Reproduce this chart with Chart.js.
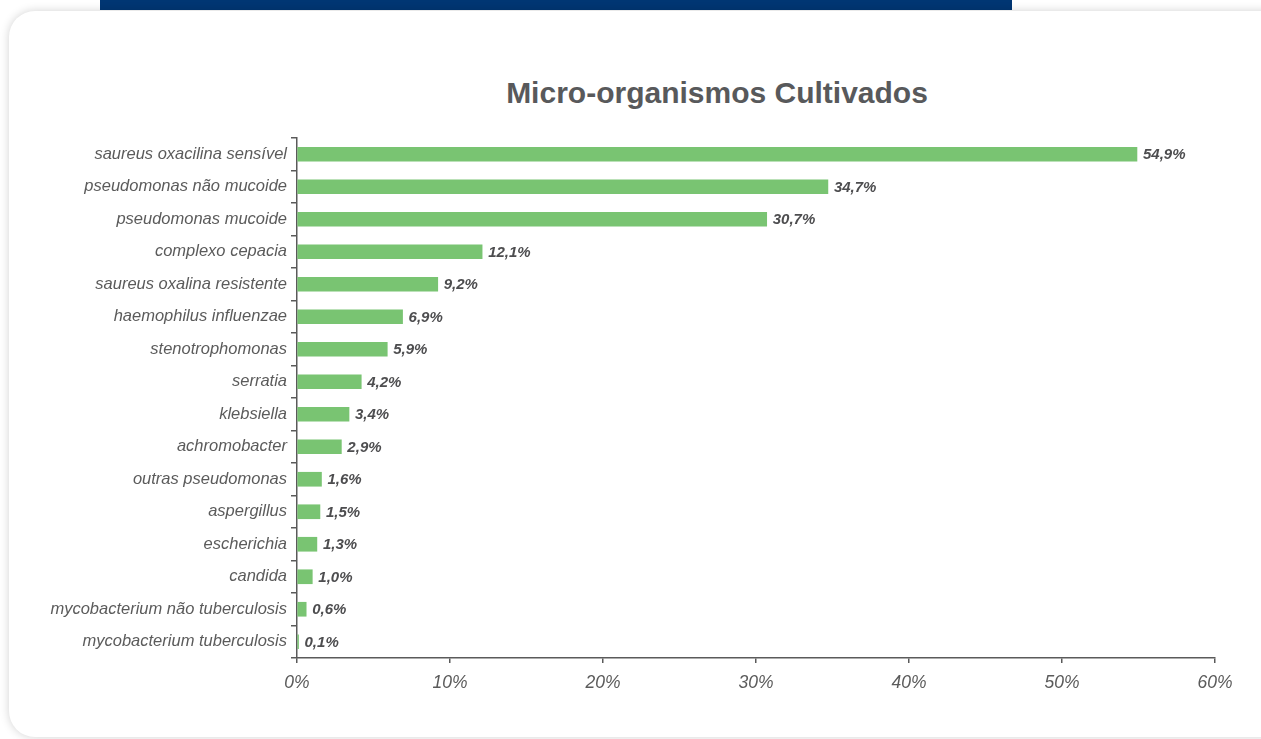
<!DOCTYPE html>
<html lang="pt">
<head>
<meta charset="utf-8">
<title>Micro-organismos Cultivados</title>
<script src="https://cdn.jsdelivr.net/npm/chart.js@4.4.1/dist/chart.umd.min.js"></script>
<style>
  html, body { margin: 0; padding: 0; background: #ffffff; }
  body { width: 1261px; height: 739px; position: relative; overflow: hidden; font-family: "Liberation Sans", Arial, sans-serif; }
  .topbar { position: absolute; left: 100px; top: 0; width: 912px; height: 10px; background: #003673; }
  .card { position: absolute; left: 9px; top: 11px; width: 1290px; height: 726px; background: #ffffff;
          border-radius: 26px; box-shadow: 0 0 10px rgba(0,0,0,0.18); }
  .title { position: absolute; left: 417px; width: 600px; top: 75px; text-align: center;
           font-weight: bold; font-size: 30px; color: #58595b; line-height: 36px; }
  #chartWrap { position: absolute; left: 0; top: 0; width: 1261px; height: 739px; }
</style>
</head>
<body>
<div class="topbar"></div>
<div class="card"></div>
<div class="title">Micro-organismos Cultivados</div>
<div id="chartWrap"><canvas id="chart" width="1261" height="739"></canvas></div>
<script>
// Organisms cultured, in the order shown top to bottom
const categories = [
  'saureus oxacilina sensível',
  'pseudomonas não mucoide',
  'pseudomonas mucoide',
  'complexo cepacia',
  'saureus oxalina resistente',
  'haemophilus influenzae',
  'stenotrophomonas',
  'serratia',
  'klebsiella',
  'achromobacter',
  'outras pseudomonas',
  'aspergillus',
  'escherichia',
  'candida',
  'mycobacterium não tuberculosis',
  'mycobacterium tuberculosis'
];
// Share of patients (%)
const percentages = [54.9, 34.7, 30.7, 12.1, 9.2, 6.9, 5.9, 4.2, 3.4, 2.9, 1.6, 1.5, 1.3, 1.0, 0.6, 0.1];
// Value axis ticks (%)
const axisTicks = [0, 10, 20, 30, 40, 50, 60];

const fmtPct = v => v.toFixed(1).replace('.', ',') + '%';

// Writes each bar's value just past its end
const valueLabels = {
  id: 'valueLabels',
  afterDatasetsDraw(chart) {
    const ctx = chart.ctx;
    const meta = chart.getDatasetMeta(0);
    ctx.save();
    ctx.font = 'italic bold 15px "Liberation Sans", Arial, sans-serif';
    ctx.fillStyle = '#4d4d4f';
    ctx.textAlign = 'left';
    ctx.textBaseline = 'middle';
    meta.data.forEach((bar, i) => {
      ctx.fillText(fmtPct(percentages[i]), bar.x + 6, bar.y + 1);
    });
    ctx.restore();
  }
};

const axisColor = '#5a5a5a';

new Chart(document.getElementById('chart'), {
  type: 'bar',
  data: {
    labels: categories,
    datasets: [{
      data: percentages,
      backgroundColor: '#79c472',
      borderWidth: 0,
      barThickness: 14
    }]
  },
  plugins: [valueLabels],
  options: {
    indexAxis: 'y',
    responsive: false,
    animation: false,
    devicePixelRatio: 1,
    layout: { padding: { left: 0, top: 138, right: 46, bottom: 39 } },
    plugins: {
      legend: { display: false },
      tooltip: { enabled: false },
      title: { display: false }
    },
    scales: {
      x: {
        type: 'linear',
        min: axisTicks[0],
        max: axisTicks[axisTicks.length - 1],
        afterBuildTicks(scale) { scale.ticks = axisTicks.map(v => ({ value: v })); },
        afterFit(scale) { scale.height = 42; },
        border: { display: true, color: axisColor, width: 1.5 },
        grid: { drawOnChartArea: false, drawTicks: true, tickLength: 5, color: axisColor, lineWidth: 1.5 },
        ticks: {
          padding: 10,
          color: '#5b5b5b',
          font: { family: '"Liberation Sans", Arial, sans-serif', size: 17.5, style: 'italic' },
          callback: v => v + '%'
        }
      },
      y: {
        afterFit(scale) { scale.width = 297; },
        border: { display: true, color: axisColor, width: 1.5 },
        grid: { drawOnChartArea: false, drawTicks: true, tickLength: 6, color: axisColor, lineWidth: 1.5, offset: true },
        ticks: {
          padding: 4,
          color: '#5b5b5b',
          autoSkip: false,
          font: { family: '"Liberation Sans", Arial, sans-serif', size: 16.5, style: 'italic' }
        }
      }
    }
  }
});
</script>
</body>
</html>
